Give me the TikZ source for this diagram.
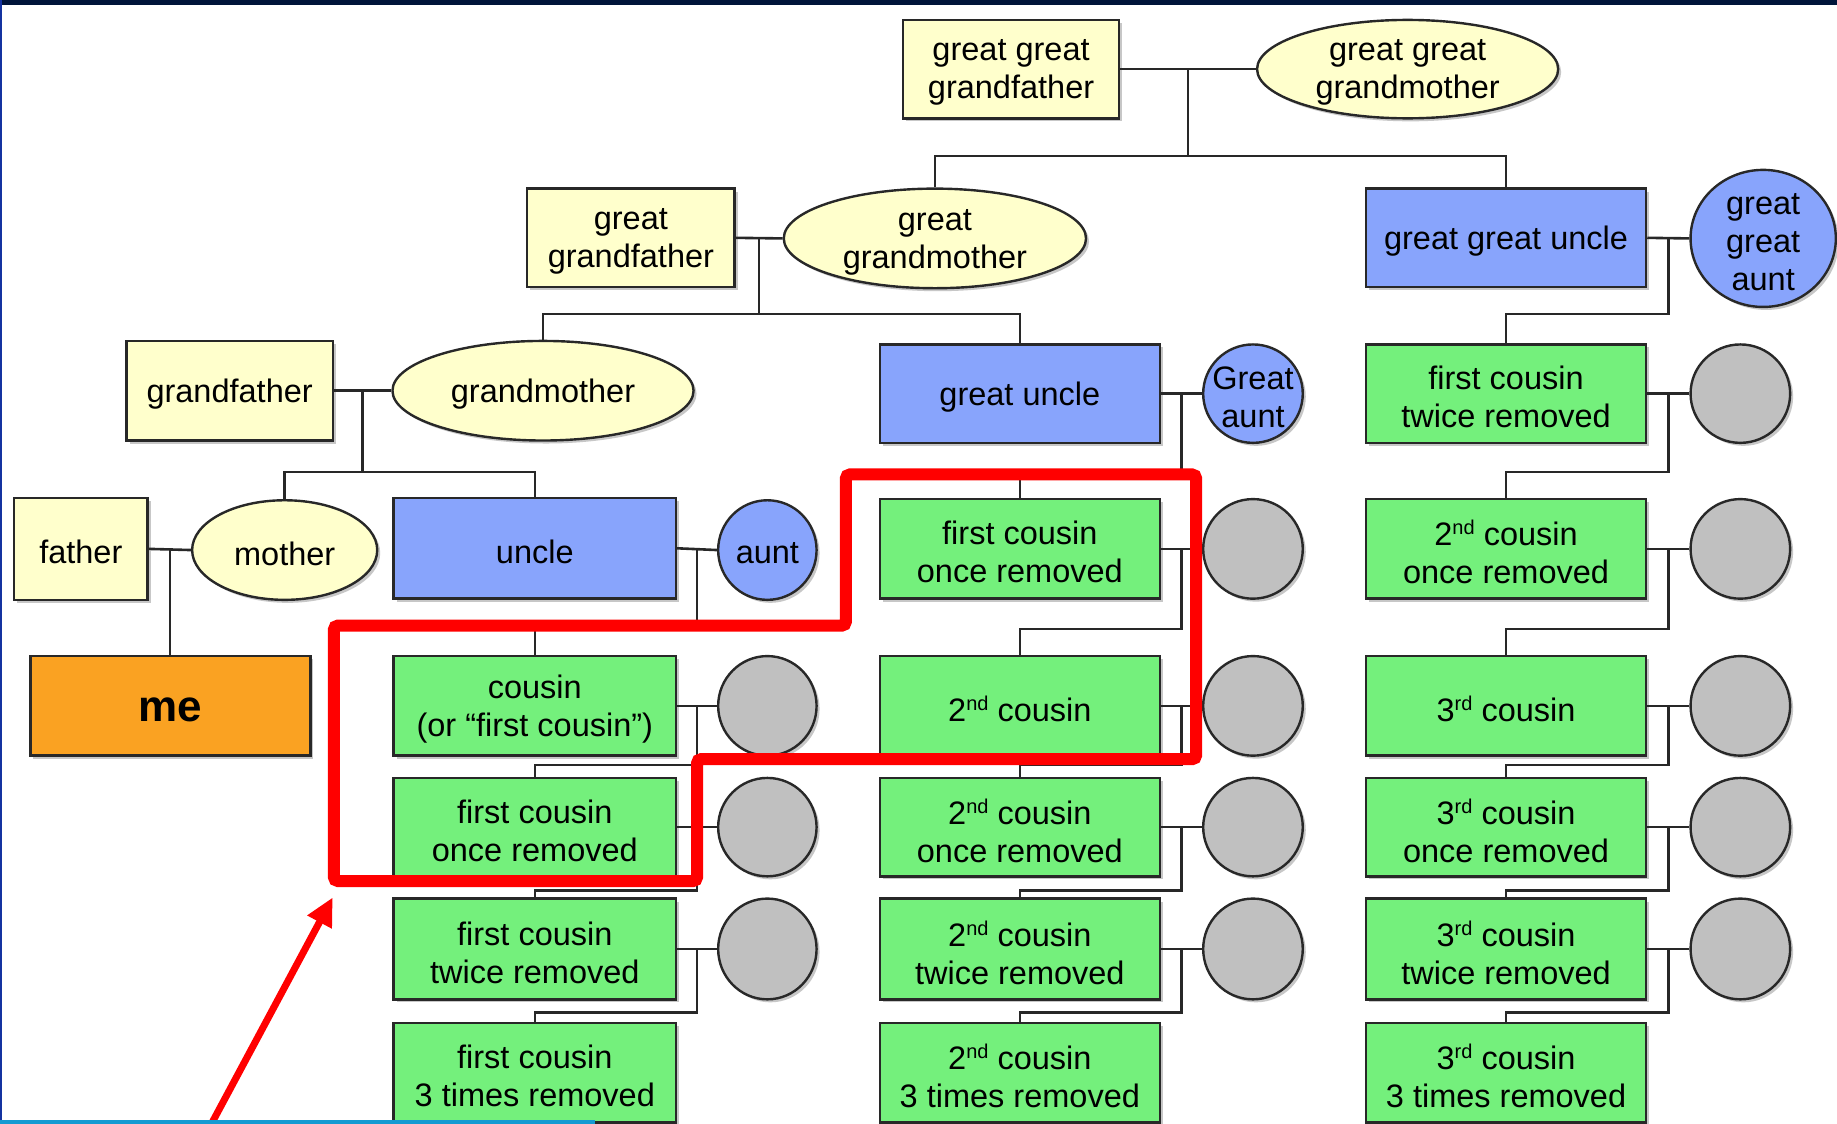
\documentclass[tikz,border=0pt]{standalone}
\usepackage{fontspec}
\setmainfont{Liberation Sans}
\usetikzlibrary{shapes.geometric,calc,shadows,arrows.meta}
\definecolor{yel}{RGB}{255,255,204}
\definecolor{blu}{RGB}{136,164,252}
\definecolor{grn}{RGB}{116,240,124}
\definecolor{org}{RGB}{250,162,34}
\definecolor{gry}{RGB}{192,192,192}
\definecolor{bord}{RGB}{40,40,40}
\definecolor{navy}{RGB}{0,20,58}
\definecolor{cyanl}{RGB}{20,155,210}
\definecolor{edgeblue}{RGB}{20,50,160}
\definecolor{redc}{RGB}{255,0,0}

\newcommand\shp[7]{%
  \node[#1, minimum width={(#5-#3)*1.1716pt}, minimum height={(#6-#4)*1.1716pt}] (#2) at ({(#3+#5)/2},{(#4+#6)/2}) {};
  \node[txt] (#2t) at (#2.center) {#7};}

\newcommand\famlink[4]{%
  \coordinate (#1j) at ($(#1.east)!0.5!(#2.west)$);
  \draw[conn] (#1.east) -- (#2.west);
  \draw[conn] (#1j) -- (#1j |- #3) -| (#4.north);}

\newcommand\sups[1]{\raisebox{11pt}{\fontsize{20}{20}\selectfont #1}}

\tikzset{
  base/.style={draw=bord, line width=2.4pt, inner sep=0pt,
    general shadow={fill=black!22, shadow xshift=3pt, shadow yshift=-3pt}},
  ybox/.style={base, rectangle, fill=yel},
  bbox/.style={base, rectangle, fill=blu},
  gbox/.style={base, rectangle, fill=grn},
  obox/.style={base, rectangle, fill=org},
  yell/.style={base, ellipse, fill=yel},
  bell/.style={base, ellipse, fill=blu},
  gell/.style={base, ellipse, fill=gry},
  txt/.style={inner sep=0pt, align=center, font=\fontsize{32.5}{38}\selectfont, text=black, yshift=-3.5pt},
  conn/.style={draw=bord, line width=2.6pt},
  redline/.style={draw=redc, line width=12pt, rounded corners=4pt},
  redarrow/.style={draw=redc, line width=7pt, -{Triangle[length=28pt,width=26pt]}},
}

\begin{document}
\begin{tikzpicture}[x=1.1716pt, y=-1.1716pt]
\useasboundingbox (0,0) rectangle (1568,959);
\fill[white] (0,0) rectangle (1568,959);

% level coordinates
\coordinate (L0) at (0,133);
\coordinate (L1) at (0,268);
\coordinate (L2) at (0,403);
\coordinate (L3) at (0,537);
\coordinate (L4) at (0,653);
\coordinate (L5) at (0,760);
\coordinate (L6) at (0,864);

% row 0
\shp{ybox}{ggf}{771}{17}{955}{101}{great great\\grandfather}
\shp{yell}{ggm}{1073}{17}{1330}{101}{great great\\grandmother}

% row 1
\shp{ybox}{gfa}{450}{161}{627}{245}{great\\grandfather}
\shp{yell}{gmo}{669}{161}{927}{246}{great\\grandmother}
\shp{bbox}{ggu}{1166}{161}{1405}{245}{great great uncle}
\shp{bell}{gga}{1443}{145}{1567}{262}{great\\great\\aunt}

% row 2
\shp{ybox}{gf}{108}{291}{284}{376}{grandfather}
\shp{yell}{gm}{335}{291}{592}{376}{grandmother}
\shp{bbox}{gu}{751}{294}{990}{378}{great uncle}
\shp{bell}{ga}{1027}{294}{1112}{378}{Great\\aunt}
\shp{gbox}{cCb}{1166}{294}{1405}{378}{first cousin\\twice removed}
\shp{gell}{sCb}{1443}{294}{1528}{378}{}

% row 3
\shp{ybox}{father}{12}{425}{126}{512}{father}
\shp{yell}{mother}{164}{427}{322}{512}{mother}
\shp{bbox}{uncle}{336}{425}{577}{511}{uncle}
\shp{bell}{aunt}{613}{427}{697}{512}{aunt}
\shp{gbox}{cBc}{751}{426}{990}{511}{first cousin\\once removed}
\shp{gell}{sBc}{1027}{426}{1112}{511}{}
\shp{gbox}{cCc}{1166}{426}{1405}{511}{2\sups{nd} cousin\\once removed}
\shp{gell}{sCc}{1443}{426}{1528}{511}{}

% row 4
\shp{obox}{me}{26}{560}{265}{645}{{\fontsize{44}{48}\selectfont\bfseries me}}
\shp{gbox}{cAd}{336}{560}{577}{645}{cousin\\(or “first cousin”)}
\shp{gell}{sAd}{613}{560}{697}{645}{}
\shp{gbox}{cBd}{751}{560}{990}{645}{2\sups{nd} cousin}
\shp{gell}{sBd}{1027}{560}{1112}{645}{}
\shp{gbox}{cCd}{1166}{560}{1405}{645}{3\sups{rd} cousin}
\shp{gell}{sCd}{1443}{560}{1528}{645}{}

% row 5
\shp{gbox}{cAe}{336}{664}{577}{748}{first cousin\\once removed}
\shp{gell}{sAe}{613}{664}{697}{748}{}
\shp{gbox}{cBe}{751}{664}{990}{748}{2\sups{nd} cousin\\once removed}
\shp{gell}{sBe}{1027}{664}{1112}{748}{}
\shp{gbox}{cCe}{1166}{664}{1405}{748}{3\sups{rd} cousin\\once removed}
\shp{gell}{sCe}{1443}{664}{1528}{748}{}

% row 6
\shp{gbox}{cAf}{336}{767}{577}{853}{first cousin\\twice removed}
\shp{gell}{sAf}{613}{767}{697}{853}{}
\shp{gbox}{cBf}{751}{767}{990}{853}{2\sups{nd} cousin\\twice removed}
\shp{gell}{sBf}{1027}{767}{1112}{853}{}
\shp{gbox}{cCf}{1166}{767}{1405}{853}{3\sups{rd} cousin\\twice removed}
\shp{gell}{sCf}{1443}{767}{1528}{853}{}

% row 7
\shp{gbox}{cAg}{336}{873}{577}{958}{first cousin\\3 times removed}
\shp{gbox}{cBg}{751}{873}{990}{958}{2\sups{nd} cousin\\3 times removed}
\shp{gbox}{cCg}{1166}{873}{1405}{958}{3\sups{rd} cousin\\3 times removed}

% connectors
\coordinate (ggfj) at ($(ggf.east)!0.5!(ggm.west)$);
\draw[conn] (ggf.east) -- (ggm.west);
\draw[conn] (ggfj) -- (ggfj |- L0);
\draw[conn] (gmo.north) -- (gmo.north |- L0) -- (ggu.north |- L0) -- (ggu.north);

\coordinate (gfaj) at ($(gfa.east)!0.5!(gmo.west)$);
\draw[conn] (gfa.east) -- (gmo.west);
\draw[conn] (gfaj) -- (gfaj |- L1);
\draw[conn] (gm.north) -- (gm.north |- L1) -- (gu.north |- L1) -- (gu.north);
\famlink{ggu}{gga}{L1}{cCb}

\coordinate (gfj) at ($(gf.east)!0.5!(gm.west)$);
\draw[conn] (gf.east) -- (gm.west);
\draw[conn] (gfj) -- (gfj |- L2);
\draw[conn] (mother.north) -- (mother.north |- L2) -- (uncle.north |- L2) -- (uncle.north);
\famlink{gu}{ga}{L2}{cBc}
\famlink{cCb}{sCb}{L2}{cCc}

\coordinate (fatherj) at ($(father.east)!0.5!(mother.west)$);
\draw[conn] (father.east) -- (mother.west);
\draw[conn] (fatherj) -- (fatherj |- me.north);
\famlink{uncle}{aunt}{L3}{cAd}
\famlink{cBc}{sBc}{L3}{cBd}
\famlink{cCc}{sCc}{L3}{cCd}

\famlink{cAd}{sAd}{L4}{cAe}
\famlink{cBd}{sBd}{L4}{cBe}
\famlink{cCd}{sCd}{L4}{cCe}

\famlink{cAe}{sAe}{L5}{cAf}
\famlink{cBe}{sBe}{L5}{cBf}
\famlink{cCe}{sCe}{L5}{cCf}

\famlink{cAf}{sAf}{L6}{cAg}
\famlink{cBf}{sBf}{L6}{cBg}
\famlink{cCf}{sCf}{L6}{cCg}

% red highlight
\draw[redline] (722,405) -- (1021,405) -- (1021,648) -- (595,648) -- (595,752) -- (285,752) -- (285,534) -- (722,534) -- cycle;
\coordinate (arrtail) at (179,962);
\coordinate (arrtip) at (284,766);
\draw[redarrow] (arrtail) -- (arrtip);

% frame decorations
\fill[navy] (0,0) rectangle (1568,4);
\fill[edgeblue] (0,0) rectangle (1.3,959);
\fill[cyanl] (0,956) rectangle (508,959);
\end{tikzpicture}
\end{document}
